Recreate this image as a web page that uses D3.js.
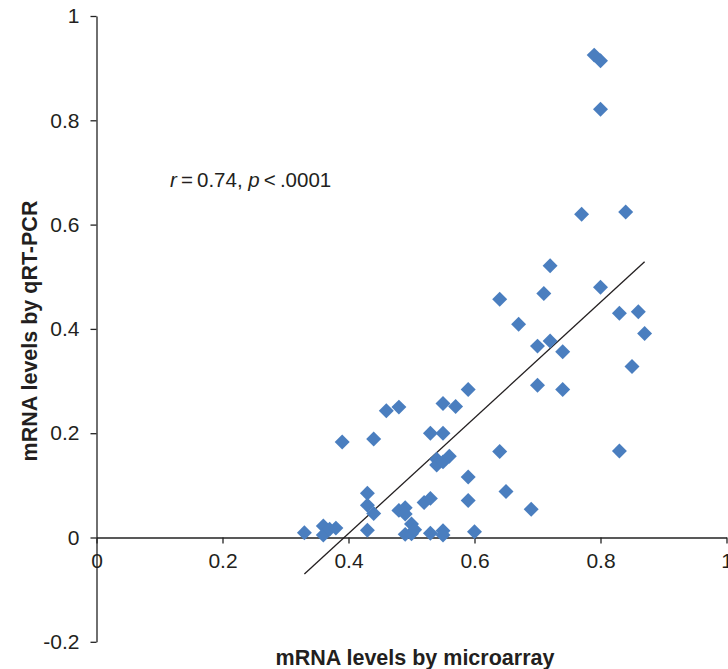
<!DOCTYPE html>
<html>
<head>
<meta charset="utf-8">
<script src="https://cdn.jsdelivr.net/npm/d3@7"></script>
<style>
  body { margin: 0; background: #fff; }
  svg { display: block; font-family: 'Liberation Sans', Arial, sans-serif; }
</style>
</head>
<body>
<svg id="chart" width="728" height="669"></svg>
<script>
'use strict';

// microarray level (x) and qRT-PCR level (y)
const microarray = [
  0.33, 0.36, 0.36, 0.37, 0.38, 0.39, 0.43, 0.43, 0.43, 0.44,
  0.44, 0.46, 0.48, 0.48, 0.49, 0.49, 0.49, 0.50, 0.50, 0.505,
  0.52, 0.53, 0.53, 0.53, 0.54, 0.54, 0.55, 0.55, 0.55, 0.55,
  0.55, 0.56, 0.57, 0.59, 0.59, 0.59, 0.60, 0.64, 0.64, 0.65,
  0.67, 0.69, 0.70, 0.70, 0.71, 0.72, 0.72, 0.74, 0.74, 0.77,
  0.79, 0.80, 0.80, 0.80, 0.83, 0.83, 0.84, 0.85, 0.86, 0.87,
];
const qrtpcr = [
  0.009, 0.022, 0.005, 0.016, 0.018, 0.183, 0.085, 0.062, 0.014, 0.046,
  0.189, 0.243, 0.250, 0.052, 0.057, 0.045, 0.006, 0.026, 0.007, 0.015,
  0.067, 0.075, 0.008, 0.200, 0.150, 0.139, 0.145, 0.200, 0.257, 0.013,
  0.005, 0.156, 0.251, 0.284, 0.116, 0.071, 0.011, 0.457, 0.165, 0.088,
  0.409, 0.054, 0.367, 0.292, 0.468, 0.521, 0.377, 0.356, 0.284, 0.620,
  0.925, 0.914, 0.821, 0.480, 0.430, 0.166, 0.624, 0.328, 0.433, 0.391,
];
// linear fit shown on the chart
const fitSlope = 1.109;
const fitIntercept = -0.436;

const xTicks = [0, 0.2, 0.4, 0.6, 0.8, 1];
const yTicks = [-0.2, 0, 0.2, 0.4, 0.6, 0.8, 1];

const svg = d3.select('#chart');

const xScale = d3.scaleLinear().domain([0, 1]).range([96.5, 726.5]);
const yScale = d3.scaleLinear().domain([-0.2, 1]).range([641.8, 16]);

const axisColor = '#222';
// plain hyphen for negatives, as in the original
const fmt = (d) => (d === 0 || d === 1 ? String(d) : d.toFixed(1));

// y axis at x = 0
svg.append('g')
  .attr('transform', 'translate(' + xScale(0) + ',0)')
  .call(d3.axisLeft(yScale).tickValues(yTicks).tickFormat(fmt)
    .tickSizeInner(6).tickSizeOuter(0).tickPadding(11))
  .call((g) => {
    g.select('.domain').attr('stroke', axisColor).attr('stroke-width', 1.3);
    g.selectAll('line').attr('stroke', axisColor).attr('stroke-width', 1.3);
    g.selectAll('text').attr('fill', '#231f20').style('font-size', '21px')
      .style('font-family', "'Liberation Sans', Arial, sans-serif");
  });

// x axis at y = 0
svg.append('g')
  .attr('transform', 'translate(0,' + yScale(0) + ')')
  .call(d3.axisBottom(xScale).tickValues(xTicks).tickFormat(fmt)
    .tickSizeInner(6).tickSizeOuter(0).tickPadding(10))
  .call((g) => {
    g.select('.domain').attr('stroke', axisColor).attr('stroke-width', 1.3);
    g.selectAll('line').attr('stroke', axisColor).attr('stroke-width', 1.3);
    g.selectAll('text').attr('fill', '#231f20').style('font-size', '21px')
      .style('font-family', "'Liberation Sans', Arial, sans-serif");
  });

// trend line over the data range
const xExt = d3.extent(microarray);
svg.append('line')
  .attr('x1', xScale(xExt[0]))
  .attr('y1', yScale(fitSlope * xExt[0] + fitIntercept))
  .attr('x2', xScale(xExt[1]))
  .attr('y2', yScale(fitSlope * xExt[1] + fitIntercept))
  .attr('stroke', '#231f20')
  .attr('stroke-width', 1.3);

// diamonds
const diamond = d3.symbol().type(d3.symbolSquare).size(112);
svg.append('g')
  .selectAll('path')
  .data(microarray.map((x, i) => ({ x: x, y: qrtpcr[i] })))
  .join('path')
  .attr('d', diamond)
  .attr('transform', (d) => 'translate(' + xScale(d.x) + ',' + yScale(d.y) + ') rotate(45)')
  .attr('fill', '#4a7ebf');

// annotation
const note = svg.append('text')
  .attr('x', 170)
  .attr('y', 187)
  .attr('fill', '#231f20')
  .style('font-size', '20.5px');
note.append('tspan').style('font-style', 'italic').text('r');
note.append('tspan').text('\u2009=\u20090.74, ');
note.append('tspan').style('font-style', 'italic').text('p');
note.append('tspan').text('\u2009<\u2009.0001');

// axis titles
svg.append('text')
  .attr('x', 415)
  .attr('y', 665)
  .attr('text-anchor', 'middle')
  .attr('fill', '#231f20')
  .style('font-size', '21.5px')
  .style('font-weight', 'bold')
  .text('mRNA levels by microarray');

svg.append('text')
  .attr('transform', 'translate(37,331) rotate(-90)')
  .attr('text-anchor', 'middle')
  .attr('fill', '#231f20')
  .style('font-size', '21.5px')
  .style('font-weight', 'bold')
  .text('mRNA levels by qRT-PCR');
</script>
</body>
</html>
